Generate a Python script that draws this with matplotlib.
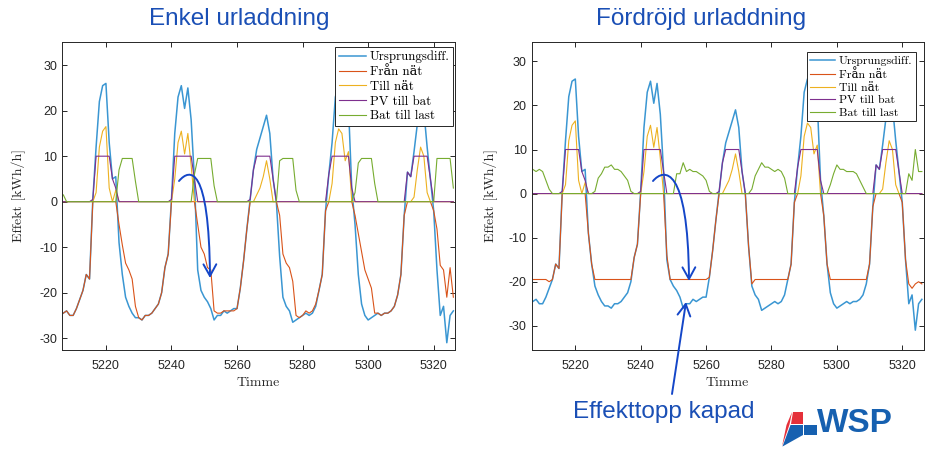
import numpy as np
import matplotlib
matplotlib.use('Agg')
import matplotlib.pyplot as plt
from matplotlib.path import Path
from matplotlib.patches import FancyArrowPatch, Polygon

plt.rcParams['font.family'] = ['Liberation Sans', 'DejaVu Sans']
plt.rcParams['axes.unicode_minus'] = False

# timme 5207 .. 5326
timmar = np.arange(5207, 5327)

ursprung = [
    -24.5, -24, -25, -25, -23.5, -21.5, -19.5, -16, -17, 0.5,
    12, 22, 25.5, 26, 13, 5, 5.5, -9, -16, -21,
    -23, -24.5, -25.5, -25.5, -26, -25, -25, -24.5, -23.5, -22.5,
    -20, -14.5, -11.5, 0.5, 15, 23, 25.5, 20.5, 25, 18,
    5, -15, -19.5, -21, -22, -23.5, -26, -25, -25, -24,
    -24.5, -24, -23.5, -23.5, -19, -13, -6, 0.5, 7, 11.5,
    14, 16.5, 19, 15, 5, 0, -12, -21, -23, -24,
    -26.5, -26, -25.5, -25, -24.5, -25, -24.5, -23, -19.5, -16,
    -2, 6, 13, 23, 26, 25, 19, 21, 3, -5,
    -16, -22.5, -25, -26, -25.5, -25, -24.5, -25, -24.5, -24.5,
    -24, -23, -20.5, -16, -3, 6.5, 5.5, 11, 17, 22,
    20, 12, 5, -2, -15, -25, -23, -31, -25, -24,
]

till_nat = [
    0, 0, 0, 0, 0, 0, 0, 0, 0, 0,
    2, 12, 15.5, 16.5, 3, 0, 2.5, 0, 0, 0,
    0, 0, 0, 0, 0, 0, 0, 0, 0, 0,
    0, 0, 0, 0, 5, 13, 15.5, 10.5, 15, 8,
    0, 0, 0, 0, 0, 0, 0, 0, 0, 0,
    0, 0, 0, 0, 0, 0, 0, 0, 0, 1.5,
    3, 5.5, 9, 5, 0, 0, 0, 0, 0, 0,
    0, 0, 0, 0, 0, 0, 0, 0, 0, 0,
    0, 0, 4, 13, 16, 15, 9, 11, 0, 0,
    0, 0, 0, 0, 0, 0, 0, 0, 0, 0,
    0, 0, 0, 0, 0, 0, 0, 1, 7, 12,
    10, 2, 0, 0, 0, 0, 0, 0, 0, 0,
]

pv_till_bat = [
    0, 0, 0, 0, 0, 0, 0, 0, 0, 0.5,
    10, 10, 10, 10, 10, 5, 3, 0, 0, 0,
    0, 0, 0, 0, 0, 0, 0, 0, 0, 0,
    0, 0, 0, 0.5, 10, 10, 10, 10, 10, 10,
    5, 0, 0, 0, 0, 0, 0, 0, 0, 0,
    0, 0, 0, 0, 0, 0, 0, 0.5, 7, 10,
    10, 10, 10, 10, 5, 0, 0, 0, 0, 0,
    0, 0, 0, 0, 0, 0, 0, 0, 0, 0,
    0, 6, 10, 10, 10, 10, 10, 10, 3, 0,
    0, 0, 0, 0, 0, 0, 0, 0, 0, 0,
    0, 0, 0, 0, 0, 6.5, 5.5, 10, 10, 10,
    10, 10, 5, 0, 0, 0, 0, 0, 0, 0,
]

# Enkel urladdning
fran_nat_enkel = [
    -24.5, -24, -25, -25, -23.5, -21.5, -19.5, -16, -17, 0,
    0, 0, 0, 0, 0, 0, 0, -5, -9.5, -13.5,
    -15, -17, -23, -25.5, -26, -25, -25, -24.5, -23.5, -22.5,
    -20, -14.5, -11.5, 0, 0, 0, 0, 0, 0, 0,
    0, -5, -10, -11.5, -14.5, -15, -24, -24.5, -24.5, -24,
    -24, -24, -24, -23.5, -19, -13, -6, 0, 0, 0,
    0, 0, 0, 0, 0, 0, -3, -11.5, -13.5, -14.5,
    -17.5, -25, -25.5, -25, -24, -24.5, -24, -22.5, -19.5, -16,
    -2, 0, 0, 0, 0, 0, 0, 0, 0, -3,
    -7, -11, -15, -17, -19, -24.5, -24.5, -25, -24.5, -24.5,
    -24, -23, -20.5, -16, -3, 0, 0, 0, 0, 0,
    0, 0, 0, -2, -6, -14, -15, -21, -14.5, -21,
]

bat_till_last_enkel = [
    1.5, 0, 0, 0, 0, 0, 0, 0, 0, 0,
    0, 0, 0, 0, 0, 0, 0, 7, 9.5, 9.5,
    9.5, 9.5, 4.5, 0, 0, 0, 0, 0, 0, 0,
    0, 0, 0, 0, 0, 0, 0, 0, 0, 0,
    6, 9.5, 9.5, 9.5, 9.5, 9.5, 3.5, 0, 0, 0,
    0, 0, 0, 0, 0, 0, 0, 0, 0, 0,
    0, 0, 0, 0, 0, 0, 9, 9.5, 9.5, 9.5,
    9.5, 2.5, 0, 0, 0, 0, 0, 0, 0, 0,
    0, 0, 0, 0, 0, 0, 0, 0, 0, 2,
    8.5, 9.5, 9.5, 9.5, 9.5, 4, 0, 0, 0, 0,
    0, 0, 0, 0, 0, 0, 0, 0, 0, 0,
    0, 0, 0, 0, 9.5, 9.5, 9.5, 9.5, 9.5, 3,
]

# Fordrojd urladdning
fran_nat_ford = [
    -19.5, -19.5, -19.5, -19.5, -19.5, -20, -19.5, -16, -17, 0,
    0, 0, 0, 0, 0, 0, 0, -9, -16, -19.5,
    -19.5, -19.5, -19.5, -19.5, -19.5, -19.5, -19.5, -19.5, -19.5, -19.5,
    -19.5, -14.5, -11.5, 0, 0, 0, 0, 0, 0, 0,
    0, -14, -19.5, -19.5, -19.5, -19.5, -19.5, -19.5, -19.5, -19.5,
    -19.5, -19.5, -19.5, -19.5, -19, -13, -6, 0, 0, 0,
    0, 0, 0, 0, 0, 0, -12, -20.5, -19.5, -19.5,
    -19.5, -19.5, -19.5, -19.5, -19.5, -19.5, -19.5, -19.5, -19.5, -16,
    -2, 0, 0, 0, 0, 0, 0, 0, 0, -5,
    -16, -19.5, -19.5, -19.5, -19.5, -19.5, -19.5, -19.5, -19.5, -19.5,
    -19.5, -19.5, -19.5, -16, -3, 0, 0, 0, 0, 0,
    0, 0, 0, -2, -15, -20.5, -21.5, -20.5, -20, -20.5,
]

bat_till_last_ford = [
    5.5, 5, 5.5, 5, 3, 1, 0, 0, 0, 0,
    0, 0, 0, 0, 0, 0, 0, 0, 0, 0.5,
    3.5, 4.5, 6, 6, 6.5, 5.5, 5.5, 5, 4, 3,
    0.5, 0, 0, 0, 0, 0, 0, 0, 0, 0,
    0, 0, 0, 0, 4.5, 4.5, 7, 5, 5.5, 5,
    5, 4.5, 4, 3, 0.5, 0, 0, 0, 0, 0,
    0, 0, 0, 0, 0, 0, 0, 1, 4, 5.5,
    7, 6, 6, 5.5, 5, 5.5, 5, 3.5, 0, 0,
    0, 0, 0, 0, 0, 0, 0, 0, 0, 0,
    0, 2, 4.5, 6.5, 5.5, 5.5, 5, 5, 5, 4.5,
    3, 1.5, 0, 0, 0, 0, 0, 0, 0, 0,
    0, 0, 0, 0, 0, 4.5, 3, 10, 5, 5,
]

etiketter = ['Ursprungsdiff.', 'Från nät', 'Till nät', 'PV till bat', 'Bat till last']
farger = ['#3a96d2', '#D95319', '#EDB120', '#7E2F8E', '#77AC30']
serif = ['cmr10', 'DejaVu Serif']
axfarg = '#262626'

fig = plt.figure(figsize=(9.25, 4.5), dpi=100)
ax1 = fig.add_axes([62/925, 100/450, 393/925, 308/450])
ax2 = fig.add_axes([531.5/925, 100/450, 392/925, 308/450])


def rita(ax, fran, bat, ylim, anchor, ylab_x, legsize):
    serier = [ursprung, fran, till_nat, pv_till_bat, bat]
    for s, c, lab in zip(serier, farger, etiketter):
        ax.plot(timmar, s, color=c, lw=1.1 if lab == etiketter[0] else 0.8, label=lab)
    ax.set_xlim(5206.6, 5326.5)
    ax.set_ylim(*ylim)
    ax.set_xticks(range(5220, 5321, 20))
    ax.set_yticks(range(-30, 31, 10))
    ax.tick_params(direction='in', top=True, right=True, length=3.5, width=0.7,
                   colors=axfarg, labelsize=9)
    ax.tick_params(axis='x', pad=7)
    for sp in ax.spines.values():
        sp.set_color(axfarg)
        sp.set_linewidth(0.7)
    ax.set_xlabel('Timme', family=serif, fontsize=10, color=axfarg)
    ax.xaxis.set_label_coords(0.5, -0.088)
    ax.set_ylabel('Effekt [kWh/h]', family=serif, fontsize=10, color=axfarg)
    ax.yaxis.set_label_coords(ylab_x, 0.5)
    leg = ax.legend(loc='upper right', bbox_to_anchor=anchor, borderaxespad=0,
                    prop=dict(family=serif, size=legsize), fancybox=False, framealpha=1,
                    edgecolor=axfarg, handlelength=2.1, handletextpad=0.3,
                    labelspacing=0.2, borderpad=0.3)
    leg.get_frame().set_linewidth(0.7)


rita(ax1, fran_nat_enkel, bat_till_last_enkel, (-32.6, 35.1), (0.996, 0.984), -0.092, 9.3)
rita(ax2, fran_nat_ford, bat_till_last_ford, (-35.5, 34.4), (0.98, 0.9675), -0.085, 8.5)

blå = '#1a4fb5'
fig.text(239/925, 1 - 19/450, 'Enkel urladdning', ha='center', va='center', fontsize=17.5, color=blå)
fig.text(701/925, 1 - 19/450, 'Fördröjd urladdning', ha='center', va='center', fontsize=17.5, color=blå)
fig.text(663.5/925, 1 - 412/450, 'Effekttopp kapad', ha='center', va='center', fontsize=17.5, color=blå)


def fp(X, Y):
    return (X/925, 1 - Y/450)


pilfarg = '#1446c8'
koder = [Path.MOVETO, Path.CURVE4, Path.CURVE4, Path.CURVE4]
for pts in ([(179, 181), (190, 168), (209, 165), (210, 278)],
            [(653, 181), (664, 168), (688, 165), (689, 281)]):
    pil = FancyArrowPatch(path=Path([fp(*p) for p in pts], koder),
                          arrowstyle='->,head_length=0.6,head_width=0.33',
                          mutation_scale=14, color=pilfarg, lw=1.4,
                          transform=fig.transFigure)
    fig.add_artist(pil)

pil = FancyArrowPatch(path=Path([fp(672, 394), fp(686, 302)]),
                      arrowstyle='->,head_length=0.6,head_width=0.33',
                      mutation_scale=14, color=pilfarg, lw=1.4,
                      transform=fig.transFigure)
fig.add_artist(pil)

# WSP-logga
rod, wspbla = '#e5303a', '#1660b0'
for pts, c in (([(793, 412), (803, 412), (803, 424), (791, 424)], rod),
               ([(792, 412), (789.5, 424.5), (782, 446.5), (786.5, 425)], rod),
               ([(804, 425), (817, 425), (817, 435), (804, 435)], wspbla),
               ([(790.5, 425), (803, 425), (803, 435), (782.5, 446.5)], wspbla)):
    fig.add_artist(Polygon([fp(*p) for p in pts], closed=True, fc=c, ec='none',
                           transform=fig.transFigure))
fig.text(817/925, 1 - 424/450, 'WSP', ha='left', va='center', fontsize=24,
         fontweight='bold', color=wspbla)

fig.savefig('out.png', dpi=100)
